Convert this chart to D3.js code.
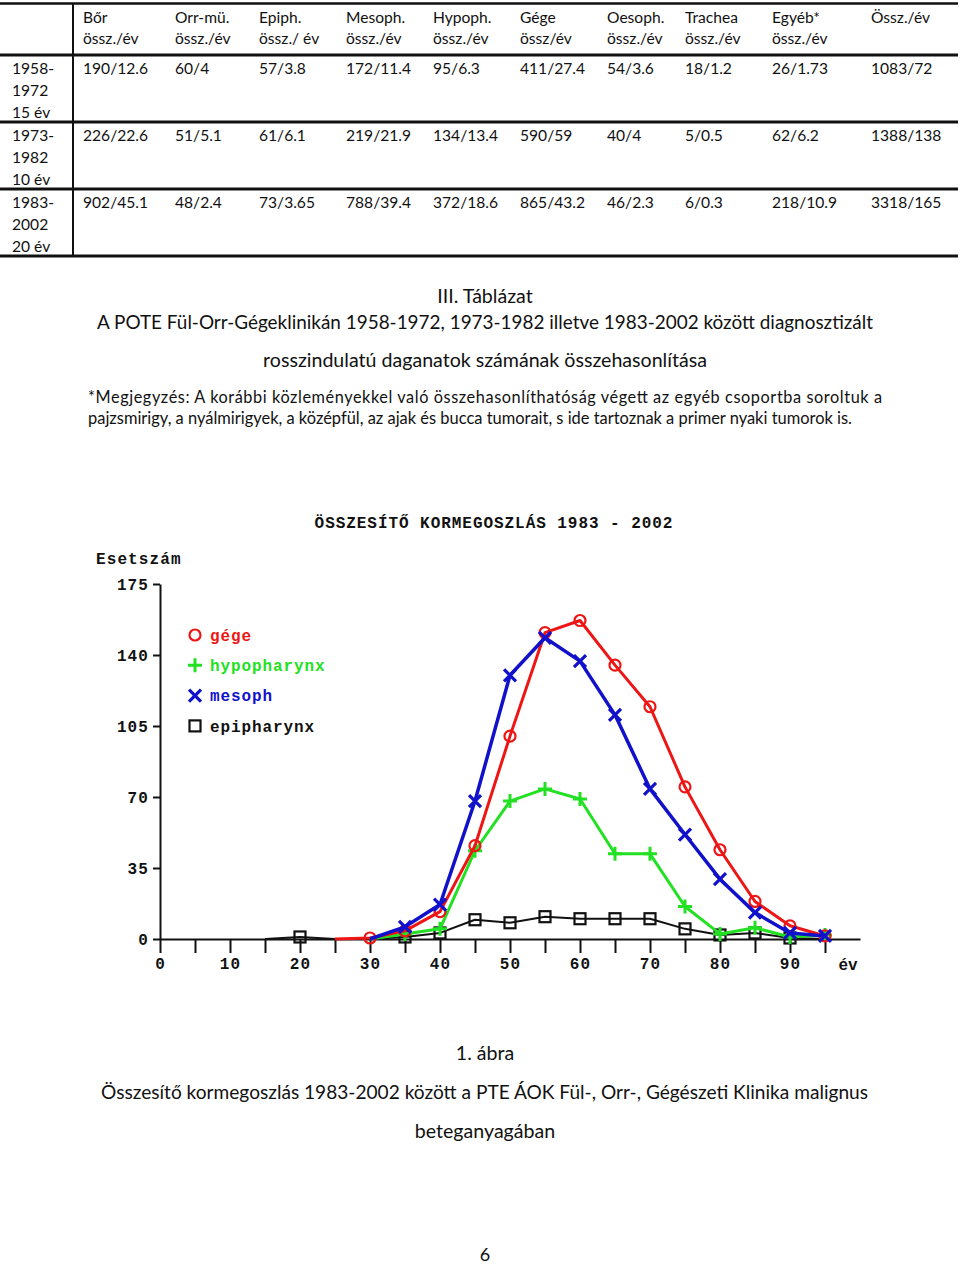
<!DOCTYPE html>
<html><head><meta charset="utf-8">
<script src="https://cdn.jsdelivr.net/npm/d3@7"></script>
<style>
body{margin:0;background:#fff;}
svg{display:block;}
.doc{font-family:Lato,"Open Sans",sans-serif;fill:#111;}
.mono{font-family:"Liberation Mono","DejaVu Sans Mono",monospace;font-weight:bold;}
</style></head>
<body>
<script>
// ---------- table data ----------
const headTop = ["Bőr","Orr-mü.","Epiph.","Mesoph.","Hypoph.","Gége","Oesoph.","Trachea","Egyéb*","Össz./év"];
const headBottom = ["össz./év","össz./év","össz./ év","össz./év","össz./év","össz/év","össz./év","össz./év","össz./év",""];
const periodLabels = [["1958-","1972","15 év"],["1973-","1982","10 év"],["1983-","2002","20 év"]];
const row1958 = ["190/12.6","60/4","57/3.8","172/11.4","95/6.3","411/27.4","54/3.6","18/1.2","26/1.73","1083/72"];
const row1973 = ["226/22.6","51/5.1","61/6.1","219/21.9","134/13.4","590/59","40/4","5/0.5","62/6.2","1388/138"];
const row1983 = ["902/45.1","48/2.4","73/3.65","788/39.4","372/18.6","865/43.2","46/2.3","6/0.3","218/10.9","3318/165"];

// ---------- chart data ----------
const ages = [15,20,25,30,35,40,45,50,55,60,65,70,75,80,85,90,95];
const gege        = [null,null,0,0.5,4,13.5,46,100,151,157,135,114.5,75,44,18.5,6.5,1.5];
const hypopharynx = [null,null,null,0,2.5,5,43.5,68,74,69,42,42,16,2.5,5.5,1,2];
const mesoph      = [null,null,null,0,6,17,68,130,148.5,137,110.5,74,51.5,29.5,13,3,1.5];
const epipharynx  = [0,1,0,0,1,3,9.5,8,11,10,10,10,5,2,3,0.5,0];
const yTicks = [0,35,70,105,140,175];
const xTicks = [0,5,10,15,20,25,30,35,40,45,50,55,60,65,70,75,80,85,90,95];
const seriesNames = ["gége","hypopharynx","mesoph","epipharynx"];

const W=960,H=1267;
const svg=d3.select("body").append("svg").attr("width",W).attr("height",H);

// ---------- table ----------
const tbl=svg.append("g").attr("class","doc");
const colX=[83,175,259,346,433,520,607,685,772,871];
const hLines=[{y:3.5,w:2.5},{y:55,w:3},{y:122,w:3},{y:189,w:3},{y:256,w:3}];
tbl.selectAll("line.h").data(hLines).join("line").attr("x1",0).attr("x2",958)
  .attr("y1",d=>d.y).attr("y2",d=>d.y).attr("stroke","#111").attr("stroke-width",d=>d.w);
tbl.append("line").attr("x1",73).attr("x2",73).attr("y1",3).attr("y2",257).attr("stroke","#111").attr("stroke-width",2);
const fs=15.6;
tbl.selectAll("text.h1").data(headTop).join("text").attr("x",(d,i)=>colX[i]).attr("y",23).attr("font-size",fs).text(d=>d);
tbl.selectAll("text.h2").data(headBottom).join("text").attr("x",(d,i)=>colX[i]).attr("y",44).attr("font-size",fs).text(d=>d);
const rowsData=[row1958,row1973,row1983];
const rowBase=[74,141,208];
rowsData.forEach((r,ri)=>{
  tbl.append("g").selectAll("text").data(r).join("text").attr("x",(d,i)=>colX[i]).attr("y",rowBase[ri]).attr("font-size",fs).text(d=>d);
  tbl.append("g").selectAll("text").data(periodLabels[ri]).join("text").attr("x",12).attr("y",(d,i)=>rowBase[ri]+i*22).attr("font-size",fs).text(d=>d);
});

// ---------- captions ----------
const cap=svg.append("g").attr("class","doc");
const cfs=19.6;
cap.append("text").attr("x",485).attr("y",303).attr("text-anchor","middle").attr("font-size",cfs).text("III. Táblázat");
cap.append("text").attr("x",97).attr("y",329).attr("font-size",cfs).attr("textLength",776).attr("lengthAdjust","spacingAndGlyphs")
  .text("A POTE Fül-Orr-Gégeklinikán 1958-1972, 1973-1982 illetve 1983-2002 között diagnosztizált");
cap.append("text").attr("x",485).attr("y",367).attr("text-anchor","middle").attr("font-size",cfs).text("rosszindulatú daganatok számának összehasonlítása");
cap.append("text").attr("x",88).attr("y",403).attr("font-size",16.3).attr("textLength",794).attr("lengthAdjust","spacing")
  .text("*Megjegyzés: A korábbi közleményekkel való összehasonlíthatóság végett az egyéb csoportba soroltuk a");
cap.append("text").attr("x",88).attr("y",424).attr("font-size",16.3).attr("textLength",764).attr("lengthAdjust","spacingAndGlyphs")
  .text("pajzsmirigy, a nyálmirigyek, a középfül, az ajak és bucca tumorait, s ide tartoznak a primer nyaki tumorok is.");

cap.append("text").attr("x",485).attr("y",1060).attr("text-anchor","middle").attr("font-size",cfs).text("1. ábra");
cap.append("text").attr("x",101).attr("y",1099).attr("font-size",cfs).attr("textLength",767).attr("lengthAdjust","spacingAndGlyphs")
  .text("Összesítő kormegoszlás 1983-2002 között a PTE ÁOK Fül-, Orr-, Gégészeti Klinika malignus");
cap.append("text").attr("x",485).attr("y",1138).attr("text-anchor","middle").attr("font-size",cfs).text("beteganyagában");
cap.append("text").attr("x",485).attr("y",1261).attr("text-anchor","middle").attr("font-size",18).text("6");

// ---------- chart ----------
const x=d3.scaleLinear().domain([0,100]).range([160,860]);
const y=d3.scaleLinear().domain([0,175]).range([939,584]);
const ch=svg.append("g").attr("class","mono");
const mfs=16;

ch.append("text").attr("x",494).attr("y",528).attr("text-anchor","middle").attr("font-size",mfs).attr("letter-spacing",0.95).attr("fill","#111")
  .text("ÖSSZESÍTŐ KORMEGOSZLÁS 1983 - 2002");
ch.append("text").attr("x",96).attr("y",564).attr("font-size",mfs).attr("letter-spacing",1.1).attr("fill","#111").text("Esetszám");

const ax=d3.axisLeft(y).tickValues(yTicks).tickSize(7).tickSizeOuter(0).tickPadding(4);
const gy=ch.append("g").attr("transform","translate(160,0)").call(ax);
const xa=d3.axisBottom(x).tickValues(xTicks).tickSize(14).tickSizeOuter(0).tickPadding(6)
  .tickFormat(d=> (d%10===0 && d<=90)? d : "");
const gx=ch.append("g").attr("transform","translate(0,939)").call(xa);
[gx,gy].forEach(g=>{
  g.select(".domain").attr("stroke","#111").attr("stroke-width",2);
  g.selectAll(".tick line").attr("stroke","#111").attr("stroke-width",2);
  g.selectAll(".tick text").attr("fill","#111").attr("font-size",mfs).attr("letter-spacing",1.1)
    .attr("font-family","'Liberation Mono','DejaVu Sans Mono',monospace").attr("font-weight","bold");
});
gx.selectAll(".tick text").attr("dy","0.6em");
gy.selectAll(".tick text").attr("dy","0.35em");
ch.append("text").attr("x",x(98.3)).attr("y",970).attr("text-anchor","middle").attr("font-size",mfs).attr("fill","#111").text("év");

const series=[
  {name:seriesNames[3],vals:epipharynx,color:"#111111",w:2,sym:"square"},
  {name:seriesNames[1],vals:hypopharynx,color:"#22e022",w:3,sym:"plus"},
  {name:seriesNames[0],vals:gege,color:"#ee1515",w:3,sym:"circle"},
  {name:seriesNames[2],vals:mesoph,color:"#1111cc",w:3.5,sym:"x"}
];
function marker(g,sym,color){
  if(sym==="circle") g.append("circle").attr("r",5.5).attr("fill","none").attr("stroke",color).attr("stroke-width",2.2);
  if(sym==="plus") g.append("path").attr("d","M-7,0H7M0,-7V7").attr("stroke",color).attr("stroke-width",3);
  if(sym==="x") g.append("path").attr("d","M-6,-6L6,6M-6,6L6,-6").attr("stroke",color).attr("stroke-width",3.2);
  if(sym==="square") g.append("rect").attr("x",-5.5).attr("y",-5.5).attr("width",11).attr("height",11).attr("fill","none").attr("stroke",color).attr("stroke-width",2.2);
}
const line=d3.line().defined(d=>d.v!==null).x(d=>x(d.a)).y(d=>y(d.v));
series.forEach(s=>{
  const pts=ages.map((a,i)=>({a,v:s.vals[i]}));
  ch.append("path").datum(pts).attr("d",line).attr("fill","none").attr("stroke",s.color).attr("stroke-width",s.w).attr("stroke-linejoin","round");
  pts.filter(p=>p.v!==null && p.v>0).forEach(p=>{
    const g=ch.append("g").attr("transform",`translate(${x(p.a)},${y(p.v)})`);
    marker(g,s.sym,s.color);
  });
});

// legend
const legOrder=[series[2],series[1],series[3],series[0]];
const lg=ch.append("g");
legOrder.forEach((s,i)=>{
  const ly=635+i*30.3;
  const g=lg.append("g").attr("transform",`translate(195,${ly})`);
  marker(g,s.sym,s.color);
  lg.append("text").attr("x",210).attr("y",ly).attr("dy","0.35em").attr("font-size",mfs).attr("letter-spacing",0.9)
    .attr("fill",s.color).text(s.name);
});
</script>
</body></html>
